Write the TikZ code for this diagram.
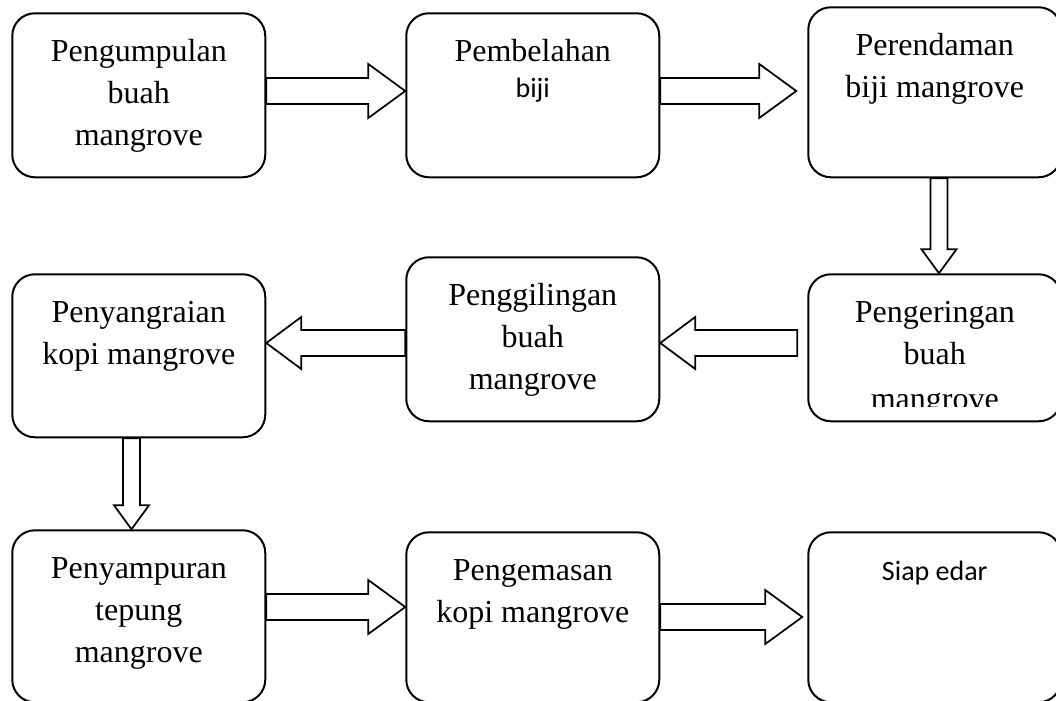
\documentclass[tikz,border=0pt]{standalone}
\usepackage{fontspec}
\setmainfont{Liberation Serif}
\newfontfamily\calibrifont{Carlito}
\usepackage{trimclip}
\usetikzlibrary{calc}

% hollow block arrows between two boxes
\newcommand{\blockright}[4]{% from, to, y, gap before tip
  \draw[blockarrow] ($(#1.east |- 0,#3)+(0,-13)$) -- ($(#2.west |- 0,#3)+(-#4-37,-13)$)
    -- ++(0,-14) -- ($(#2.west |- 0,#3)+(-#4,0)$) -- ($(#2.west |- 0,#3)+(-#4-37,27)$)
    -- ++(0,-14) -- ($(#1.east |- 0,#3)+(0,13)$) -- cycle;}
\newcommand{\blockleft}[4]{% from, to, y, gap after tail
  \draw[blockarrow] ($(#1.west |- 0,#3)+(-#4,-13)$) -- ($(#2.east |- 0,#3)+(35,-13)$)
    -- ++(0,-13) -- (#2.east |- 0,#3) -- ($(#2.east |- 0,#3)+(35,26)$)
    -- ++(0,-13) -- ($(#1.west |- 0,#3)+(-#4,13)$) -- cycle;}
\newcommand{\blockdown}[3]{% from, to, x
  \draw[blockarrow] ($(#3,0 |- #1.south)+(-8.5,0)$) -- ($(#3,0 |- #2.north)+(-8.5,-24)$)
    -- ++(-9,0) -- (#3,0 |- #2.north) -- ($(#3,0 |- #2.north)+(17.5,-24)$)
    -- ++(-9,0) -- ($(#3,0 |- #1.south)+(8.5,0)$) -- cycle;}

\begin{document}
\begin{tikzpicture}[x=0.75pt, y=-0.75pt,
    stepbox/.style ={rectangle, rounded corners=17pt, draw=black, line width=1.5pt, fill=white,
      text width=189.75pt, align=flush center, inner sep=0pt, text height=36pt, anchor=north west,
      font=\fontsize{24}{31.5}\selectfont},
    blockarrow/.style ={draw=black, line width=1.3pt, fill=white}]
    \useasboundingbox (0,0) rectangle (1056,700);
    % process steps in three rows
    \matrix [anchor=north west, inner sep=0pt, column sep=104.25pt, row sep=58.5pt] (flow) at (11,6) {
      % row 1
      \node [stepbox, text depth=87pt] (kumpul) {Pengumpulan\\buah\\mangrove};
      & \node [stepbox, text depth=87pt] (belah) {Pembelahan\\[-4.5pt]{\calibrifont\fontsize{21}{25}\selectfont biji}};
      &[6pt] \node [stepbox, text depth=91.5pt, yshift=4.5pt] (rendam) {Perendaman\\biji mangrove}; \\
      % row 2
      \node [stepbox, text depth=86.25pt] (sangrai) {Penyangraian\\kopi mangrove};
      & \node [stepbox, text depth=87pt, yshift=12.75pt] (giling) {Penggilingan\\buah\\mangrove};
      & \node [stepbox, text depth=74.25pt] (kering) {Pengeringan\\buah\\\clipbox{0pt 7.5pt 0pt 0pt}{mangrove}}; \\[9.75pt]
      % row 3
      \node [stepbox, text depth=93pt, yshift=1.5pt] (campur) {Penyampuran\\tepung\\mangrove};
      & \node [stepbox, text depth=91.5pt] (kemas) {Pengemasan\\kopi mangrove};
      & \node [stepbox, text depth=91.5pt] (edar) {{\calibrifont\fontsize{21}{25}\selectfont Siap edar}}; \\
    };% end matrix
    % connecting steps with block arrows
    \blockright{kumpul}{belah}{91}{0}
    \blockright{belah}{rendam}{91}{11}
    \blockdown{rendam}{kering}{939}
    \blockleft{kering}{giling}{343}{10}
    \blockleft{giling}{sangrai}{343}{0}
    \blockdown{sangrai}{campur}{131.5}
    \blockright{campur}{kemas}{607}{0}
    \blockright{kemas}{edar}{617}{5}
\end{tikzpicture}
\end{document}
